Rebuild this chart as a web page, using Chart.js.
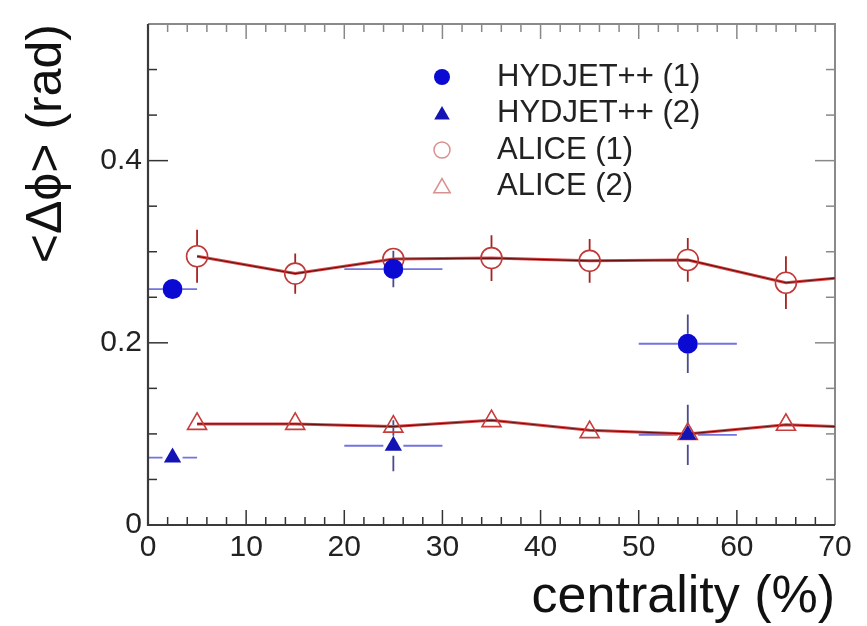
<!DOCTYPE html>
<html><head><meta charset="utf-8">
<script src="https://cdn.jsdelivr.net/npm/chart.js@4"></script>
<style>html,body{margin:0;padding:0;background:#fff}#wrap{width:867px;height:626px}</style>
</head><body><div id="wrap"><canvas id="c" width="867" height="626"></canvas></div>
<script>
// ---- data ----
const centralityAlice = [5, 15, 25, 35, 45, 55, 65];
const alice1 = [0.295, 0.276, 0.292, 0.293, 0.290, 0.291, 0.266];
const alice1Err = [0.029, 0.022, 0.012, 0.025, 0.024, 0.024, 0.029];
const alice2 = [0.111, 0.111, 0.108, 0.114, 0.102, 0.100, 0.110];
const alice2Err = [0.008, 0.008, 0.012, 0.010, 0.010, 0.008, 0.010];
const curveX = [5, 15, 25, 35, 45, 55, 65, 70];
const curve1 = [0.295, 0.276, 0.292, 0.293, 0.290, 0.291, 0.266, 0.271];
const curve2 = [0.111, 0.111, 0.108, 0.115, 0.104, 0.100, 0.110, 0.108];
const centralityHyd = [2.5, 25, 55];
const centralityHydErr = [2.5, 5, 5];
const hyd1 = [0.259, 0.281, 0.199];
const hyd1Err = [0.004, 0.020, 0.032];
const hyd2 = [0.074, 0.087, 0.099];
const hyd2Err = [0.004, 0.028, 0.033];
const xTickLabels = [0, 10, 20, 30, 40, 50, 60, 70];
const yTickLabels = [0, 0.2, 0.4];
const seriesNames = ['HYDJET++ (1)', 'HYDJET++ (2)', 'ALICE (1)', 'ALICE (2)'];

const FONT = "'Liberation Sans', Arial, Helvetica, sans-serif";
const pts = (xs, ys) => xs.map((x, i) => ({x: x, y: ys[i]}));

const datasets = [
  {label: seriesNames[0], data: pts(centralityHyd, hyd1), showLine: false, pointStyle: 'circle', pointRadius: 10,
   backgroundColor: '#0a0ad2', borderColor: '#0a0ad2', borderWidth: 0,
   xErr: centralityHydErr, yErr: hyd1Err, hColor: 'rgba(90,90,220,0.85)', vColor: '#4a4a90', legend: true},
  {label: seriesNames[1], data: pts(centralityHyd, hyd2), showLine: false, pointStyle: 'triangle', pointRadius: 10,
   backgroundColor: '#1414b4', borderColor: '#1414b4', borderWidth: 0,
   xErr: centralityHydErr, yErr: hyd2Err, hColor: 'rgba(90,90,220,0.85)', vColor: '#4a4a90', legend: true},
  {label: seriesNames[2], data: pts(centralityAlice, alice1), showLine: false, pointStyle: 'circle', pointRadius: 10.5,
   backgroundColor: 'rgba(0,0,0,0)', borderColor: '#c03838', borderWidth: 1.6,
   yErr: alice1Err, vColor: '#a82222', legend: true},
  {label: seriesNames[3], data: pts(centralityAlice, alice2), showLine: false, pointStyle: 'triangle', pointRadius: 11,
   backgroundColor: 'rgba(0,0,0,0)', borderColor: '#c83c3c', borderWidth: 1.6,
   yErr: alice2Err, vColor: '#a82222', legend: true},
  {label: 'curve1dark', data: pts(curveX, curve1), showLine: true, pointRadius: 0, borderColor: '#6a1010', borderWidth: 1.1, fill: false},
  {label: 'curve1', data: pts(curveX, curve1), showLine: true, pointRadius: 0, borderColor: '#d84848', borderWidth: 3, fill: false},
  {label: 'curve2dark', data: pts(curveX, curve2), showLine: true, pointRadius: 0, borderColor: '#6a1010', borderWidth: 1.1, fill: false},
  {label: 'curve2', data: pts(curveX, curve2), showLine: true, pointRadius: 0, borderColor: '#d84848', borderWidth: 3, fill: false}
];

// error bars
const errorBars = {
  id: 'errorBars',
  beforeDatasetsDraw(chart) {
    const ctx = chart.ctx, xs = chart.scales.x, ys = chart.scales.y;
    ctx.save();
    chart.data.datasets.forEach(ds => {
      if (!ds.yErr && !ds.xErr) return;
      const r = ds.pointRadius;
      ds.data.forEach((p, i) => {
        const px = xs.getPixelForValue(p.x), py = ys.getPixelForValue(p.y);
        if (ds.yErr) {
          const y1 = ys.getPixelForValue(p.y + ds.yErr[i]), y2 = ys.getPixelForValue(p.y - ds.yErr[i]);
          ctx.strokeStyle = ds.vColor; ctx.lineWidth = 1.8;
          ctx.beginPath();
          if (y1 < py - r) { ctx.moveTo(px, y1); ctx.lineTo(px, py - r); }
          if (y2 > py + r) { ctx.moveTo(px, py + r); ctx.lineTo(px, y2); }
          ctx.stroke();
        }
        if (ds.xErr) {
          const x1 = xs.getPixelForValue(p.x - ds.xErr[i]), x2 = xs.getPixelForValue(p.x + ds.xErr[i]);
          ctx.strokeStyle = ds.hColor; ctx.lineWidth = 1.8;
          ctx.beginPath();
          ctx.moveTo(x1, py); ctx.lineTo(px - r, py);
          ctx.moveTo(px + r, py); ctx.lineTo(x2, py);
          ctx.stroke();
        }
      });
    });
    ctx.restore();
  }
};

// frame + inside ticks (ROOT style)
const frameTicks = {
  id: 'frameTicks',
  beforeDatasetsDraw(chart) {
    const ctx = chart.ctx, xs = chart.scales.x, ys = chart.scales.y, a = chart.chartArea;
    ctx.save();
    ctx.lineCap = 'butt';
    // ticks
    ctx.lineWidth = 1.5;
    for (let v = xs.min; v <= xs.max + 1e-9; v += 2) {
      const px = xs.getPixelForValue(v);
      const major = Math.abs(v % 10) < 1e-6;
      const len = major ? 15 : 8;
      ctx.strokeStyle = '#333';
      ctx.beginPath(); ctx.moveTo(px, a.bottom); ctx.lineTo(px, a.bottom - len); ctx.stroke();
      ctx.strokeStyle = '#888';
      ctx.beginPath(); ctx.moveTo(px, a.top); ctx.lineTo(px, a.top + len); ctx.stroke();
    }
    for (let k = 0; k * 0.05 <= ys.max + 1e-9; k++) {
      const v = k * 0.05;
      const py = ys.getPixelForValue(v);
      const major = k % 4 === 0;
      const len = major ? 20 : 9;
      ctx.strokeStyle = '#333';
      ctx.beginPath(); ctx.moveTo(a.left, py); ctx.lineTo(a.left + len, py); ctx.stroke();
      ctx.strokeStyle = '#888';
      ctx.beginPath(); ctx.moveTo(a.right, py); ctx.lineTo(a.right - len, py); ctx.stroke();
    }
    // frame
    ctx.strokeStyle = '#8a8a8a'; ctx.lineWidth = 2;
    ctx.beginPath(); ctx.moveTo(a.left, a.top); ctx.lineTo(a.right, a.top); ctx.lineTo(a.right, a.bottom); ctx.stroke();
    ctx.strokeStyle = '#3a3a3a'; ctx.lineWidth = 2.2;
    ctx.beginPath(); ctx.moveTo(a.left, a.top); ctx.lineTo(a.left, a.bottom); ctx.lineTo(a.right, a.bottom); ctx.stroke();
    ctx.restore();
  }
};

// legend inside plot
const legendBox = {
  id: 'legendBox',
  afterDraw(chart) {
    const ctx = chart.ctx;
    const rows = [77, 113.5, 150, 186.5];
    const mx = 442, tx = 497;
    const styles = [
      {shape: 'circle', fill: '#0a0ad2', r: 8},
      {shape: 'triangle', fill: '#1414b4', r: 9},
      {shape: 'circle', stroke: '#d89090', r: 8},
      {shape: 'triangle', stroke: '#d89090', r: 9.5}
    ];
    ctx.save();
    const legendSets = chart.data.datasets.filter(d => d.legend);
    legendSets.forEach((ds, i) => {
      const y = rows[i], st = styles[i];
      ctx.beginPath();
      if (st.shape === 'circle') ctx.arc(mx, y, st.r, 0, Math.PI * 2);
      else {
        const r = st.r; let ang = 0;
        ctx.moveTo(mx + Math.sin(ang) * r, y + 1.5 - Math.cos(ang) * r);
        ang += 2 * Math.PI / 3; ctx.lineTo(mx + Math.sin(ang) * r, y + 1.5 - Math.cos(ang) * r);
        ang += 2 * Math.PI / 3; ctx.lineTo(mx + Math.sin(ang) * r, y + 1.5 - Math.cos(ang) * r);
        ctx.closePath();
      }
      if (st.fill) { ctx.fillStyle = st.fill; ctx.fill(); }
      if (st.stroke) { ctx.strokeStyle = st.stroke; ctx.lineWidth = 1.5; ctx.stroke(); }
      ctx.fillStyle = '#222';
      ctx.font = '31px ' + FONT;
      ctx.textBaseline = 'middle';
      ctx.textAlign = 'left';
      ctx.fillText(ds.label, tx, y);
    });
    ctx.restore();
  }
};

new Chart(document.getElementById('c'), {
  type: 'scatter',
  data: {datasets: datasets},
  plugins: [errorBars, frameTicks, legendBox],
  options: {
    responsive: false, animation: false, devicePixelRatio: 1,
    layout: {padding: {top: 12, right: 32, left: 0, bottom: 0}},
    plugins: {legend: {display: false}, tooltip: {enabled: false}},
    elements: {line: {tension: 0}},
    scales: {
      x: {
        type: 'linear', min: 0, max: 70,
        afterFit: s => { s.height = 101; },
        afterBuildTicks: s => { s.ticks = xTickLabels.map(v => ({value: v})); },
        grid: {display: false, drawTicks: false}, border: {display: false},
        ticks: {padding: 5, autoSkip: false, maxRotation: 0, color: '#222',
                font: {family: FONT, size: 30}, callback: v => String(v)},
        title: {display: true, text: 'centrality (%)', align: 'end', color: '#111',
                font: {family: FONT, size: 52, lineHeight: 1.1}, padding: {top: 0, bottom: 0}}
      },
      y: {
        type: 'linear', min: 0, max: 0.55,
        afterFit: s => { s.width = 148; },
        afterBuildTicks: s => { s.ticks = yTickLabels.map(v => ({value: v})); },
        grid: {display: false, drawTicks: false}, border: {display: false},
        ticks: {padding: 6, color: '#222', font: {family: FONT, size: 30},
                callback: v => (v === 0 ? '0' : String(Math.round(v * 10) / 10))},
        title: {display: true, text: '<Δϕ> (rad)', align: 'end', color: '#111',
                font: {family: FONT, size: 50, lineHeight: 1.2}, padding: {top: 17, bottom: 0}}
      }
    }
  }
});
</script>
</body></html>
